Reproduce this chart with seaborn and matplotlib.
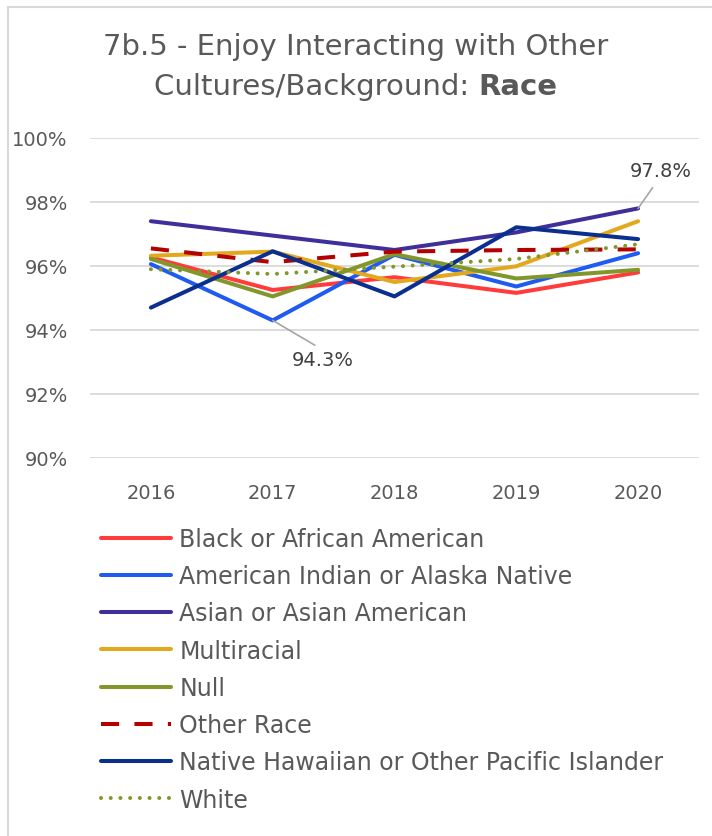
import numpy as np
import pandas as pd
import matplotlib
matplotlib.use('Agg')
import matplotlib.pyplot as plt
import seaborn as sns
from matplotlib.ticker import FuncFormatter

years = [2016, 2017, 2018, 2019, 2020]

black = [96.27, 95.25, 95.65, 95.16, 95.80]
am_indian = [96.06, 94.30, 96.35, 95.36, 96.40]
asian = [97.40, 96.95, 96.50, 97.05, 97.80]
multiracial = [96.32, 96.45, 95.50, 95.99, 97.40]
null = [96.22, 95.05, 96.37, 95.61, 95.88]
other_race = [96.55, 96.12, 96.45, 96.50, 96.52]
hawaiian = [94.70, 96.46, 95.05, 97.21, 96.84]
white = [95.90, 95.75, 95.98, 96.22, 96.68]

labels = ['Black or African American', 'American Indian or Alaska Native',
          'Asian or Asian American', 'Multiracial', 'Null', 'Other Race',
          'Native Hawaiian or Other Pacific Islander', 'White']
series = [black, am_indian, asian, multiracial, null, other_race, hawaiian, white]
colors = ['#FF3B3B', '#1F5BF0', '#3F2F9A', '#E2A81E', '#82972B', '#B40000',
          '#0B2F8F', '#82972B']

sns.set_style('white')
plt.rcParams['font.family'] = ['DejaVu Sans']

txt = '#595959'
fig = plt.figure(figsize=(7.12, 8.37), dpi=100)
ax = fig.add_axes([90 / 712, 1 - 459 / 837, 609 / 712, 320 / 837])

for name, vals, col in zip(labels, series, colors):
    df = pd.DataFrame({'year': years, 'value': vals})
    kw = dict(linewidth=2.9, solid_capstyle='round')
    if name == 'Other Race':
        kw.update(linestyle=(0, (4.5, 3.8)), dash_capstyle='butt')
    elif name == 'White':
        kw.update(linestyle=(0, (0.01, 2.4)), dash_capstyle='round')
    sns.lineplot(data=df, x='year', y='value', color=col, label=name, ax=ax, **kw)

ax.set_xlim(2015.5, 2020.5)
ax.set_ylim(90, 100)
ax.set_yticks(np.arange(90, 100.1, 2))
ax.set_xticks(years)
ax.yaxis.set_major_formatter(FuncFormatter(lambda v, p: f'{v:.0f}%'))
ax.grid(axis='y', color='#D9D9D9', linewidth=1.3)
ax.grid(axis='x', visible=False)
ax.set_axisbelow(True)
for s in ax.spines.values():
    s.set_visible(False)
ax.tick_params(axis='both', length=0, labelsize=14, colors=txt)
ax.tick_params(axis='y', pad=16)
ax.tick_params(axis='x', pad=18)
ax.set_xlabel('')
ax.set_ylabel('')

# data labels with leader lines
ax.annotate('94.3%', xy=(2017, am_indian[1]), xytext=(2017 + 50 / 121.5, am_indian[1] - 39 / 32),
            ha='center', va='center', fontsize=14, color='#404040',
            arrowprops=dict(arrowstyle='-', color='#A6A6A6', lw=1.2, shrinkA=2, shrinkB=0,
                            relpos=(0.5, 1.0)))
ax.annotate('97.8%', xy=(2020, asian[4]), xytext=(2020 + 23 / 121.5, asian[4] + 38 / 32),
            ha='center', va='center', fontsize=14, color='#404040',
            arrowprops=dict(arrowstyle='-', color='#A6A6A6', lw=1.2, shrinkA=4, shrinkB=0,
                            relpos=(0.45, 0.0)))

handles, labs = ax.get_legend_handles_labels()
ax.get_legend().remove()
fig.legend(handles, labs, loc='upper left', bbox_to_anchor=(101 / 712, 1 - 528 / 837),
           frameon=False, fontsize=17, labelcolor=txt, handlelength=2.97,
           handletextpad=0.34, labelspacing=0.56, borderaxespad=0, borderpad=0)

# title, second line partly bold
fig.canvas.draw()
r = fig.canvas.get_renderer()
fig.text(0.5, 1 - 47 / 837, '7b.5 - Enjoy Interacting with Other', ha='center', va='center',
         fontsize=21, color=txt)
t_a = fig.text(0, 1 - 87 / 837, 'Cultures/Background: ', ha='left', va='center', fontsize=21, color=txt)
t_b = fig.text(0, 1 - 87 / 837, 'Race', ha='left', va='center', fontsize=21, color=txt,
               fontweight='bold')
wa = t_a.get_window_extent(r).width
wb = t_b.get_window_extent(r).width
x0 = (712 - wa - wb) / 2
t_a.set_x(x0 / 712)
t_b.set_x((x0 + wa) / 712)

# chart border (left and top)
fig.add_artist(plt.Line2D([8 / 712, 8 / 712], [0, 1 - 8 / 837], color='#D9D9D9', lw=1.5))
fig.add_artist(plt.Line2D([8 / 712, 1], [1 - 8 / 837, 1 - 8 / 837], color='#D9D9D9', lw=1.5))

fig.savefig('out.png', dpi=100)
